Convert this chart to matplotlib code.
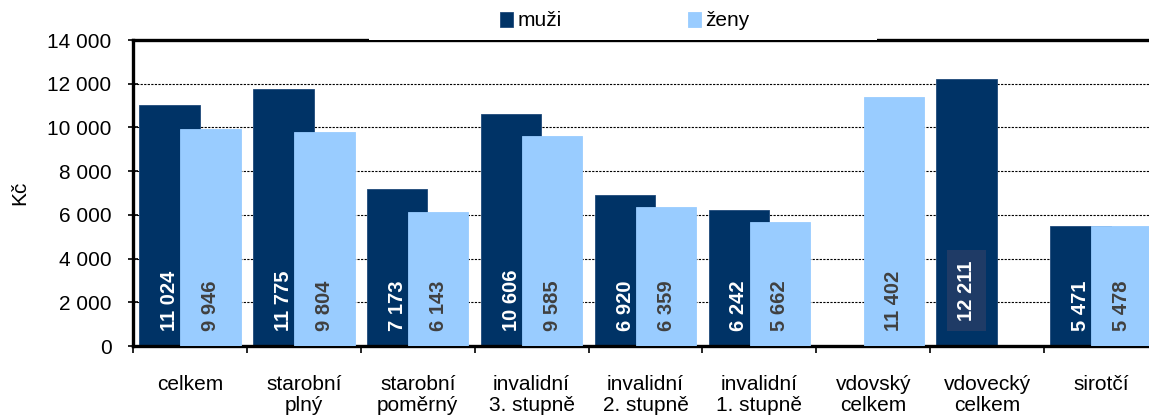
import numpy as np
import matplotlib
matplotlib.use('Agg')
import matplotlib.pyplot as plt
from matplotlib.patches import Rectangle
from matplotlib.ticker import FuncFormatter, MultipleLocator

plt.rcParams['font.family'] = ['Liberation Sans', 'DejaVu Sans']

# data
categories = ['celkem', 'starobní\nplný', 'starobní\npoměrný', 'invalidní\n3. stupně',
              'invalidní\n2. stupně', 'invalidní\n1. stupně', 'vdovský\ncelkem',
              'vdovecký\ncelkem', 'sirotčí']
muzi = [11024, 11775, 7173, 10606, 6920, 6242, np.nan, 12211, 5471]
zeny = [9946, 9804, 6143, 9585, 6359, 5662, 11402, np.nan, 5478]

dark = '#003366'
light = '#99CCFF'

fig = plt.figure(figsize=(11.49, 4.17), dpi=100)
ax = fig.add_axes([133 / 1149, 71 / 417, (1158 - 133) / 1149, 306 / 417])

x = np.arange(len(categories))
w = 0.53
off = 0.18
ax.bar(x - off, muzi, w, color=dark, edgecolor='#1f4a7a', linewidth=0.6, zorder=2, label='muži')
ax.bar(x + off, zeny, w, color=light, edgecolor=light, linewidth=0.6, zorder=3, label='ženy')

def fmt(v):
    return f'{int(v):,}'.replace(',', ' ')

for i in range(len(categories)):
    if not np.isnan(muzi[i]):
        if categories[i].startswith('vdovecký'):
            ax.text(x[i] - off, 2540, fmt(muzi[i]), rotation=90, ha='center', va='center',
                    color='white', fontsize=14.5, fontweight='bold', zorder=5,
                    bbox=dict(boxstyle='square,pad=0.5', facecolor='#1f3b66', edgecolor='none'))
        else:
            ax.text(x[i] - off, 700, fmt(muzi[i]), rotation=90, ha='center', va='bottom',
                    color='white', fontsize=14.5, fontweight='bold', zorder=5)
    if not np.isnan(zeny[i]):
        ax.text(x[i] + off, 700, fmt(zeny[i]), rotation=90, ha='center', va='bottom',
                color='#404040', fontsize=14.5, fontweight='bold', zorder=5)

ax.set_xlim(-0.5, len(categories) - 0.5)
ax.set_ylim(0, 14000)
ax.yaxis.set_major_locator(MultipleLocator(2000))
ax.yaxis.set_major_formatter(FuncFormatter(lambda v, p: fmt(v)))
ax.grid(axis='y', color='black', linestyle=(0, (2, 1.2)), linewidth=0.8, zorder=1)
ax.set_axisbelow(True)

ax.set_xticks(np.arange(len(categories) + 1) - 0.5, minor=False)
ax.set_xticklabels([])
ax.set_xticks(x, minor=True)
ax.set_xticklabels(categories, minor=True, fontsize=15, linespacing=1.12)
ax.tick_params(axis='x', which='major', direction='out', length=5, width=1.2)
ax.tick_params(axis='x', which='minor', length=0, pad=21)
ax.tick_params(axis='y', direction='inout', length=7, width=1.2, labelsize=15, pad=12)

for s in ['left', 'bottom', 'top', 'right']:
    ax.spines[s].set_linewidth(2.4)
    ax.spines[s].set_color('black')

ax.set_ylabel('Kč', fontsize=15, labelpad=13)

# white box of the legend, it covers the top half of the frame
fig.patches.append(Rectangle((369 / 1149, 1 - 39.5 / 417), (877 - 369) / 1149, 39.5 / 417,
                             transform=fig.transFigure, facecolor='white',
                             edgecolor='none', zorder=1))
fig.legend(loc='center left', bbox_to_anchor=(500 / 1149, 1 - 21 / 417), ncol=2,
           frameon=False, fontsize=15, handlelength=0.62, handleheight=0.7,
           handletextpad=0.2, columnspacing=6.1, borderaxespad=0, borderpad=0)

fig.savefig('out.png', dpi=100)
